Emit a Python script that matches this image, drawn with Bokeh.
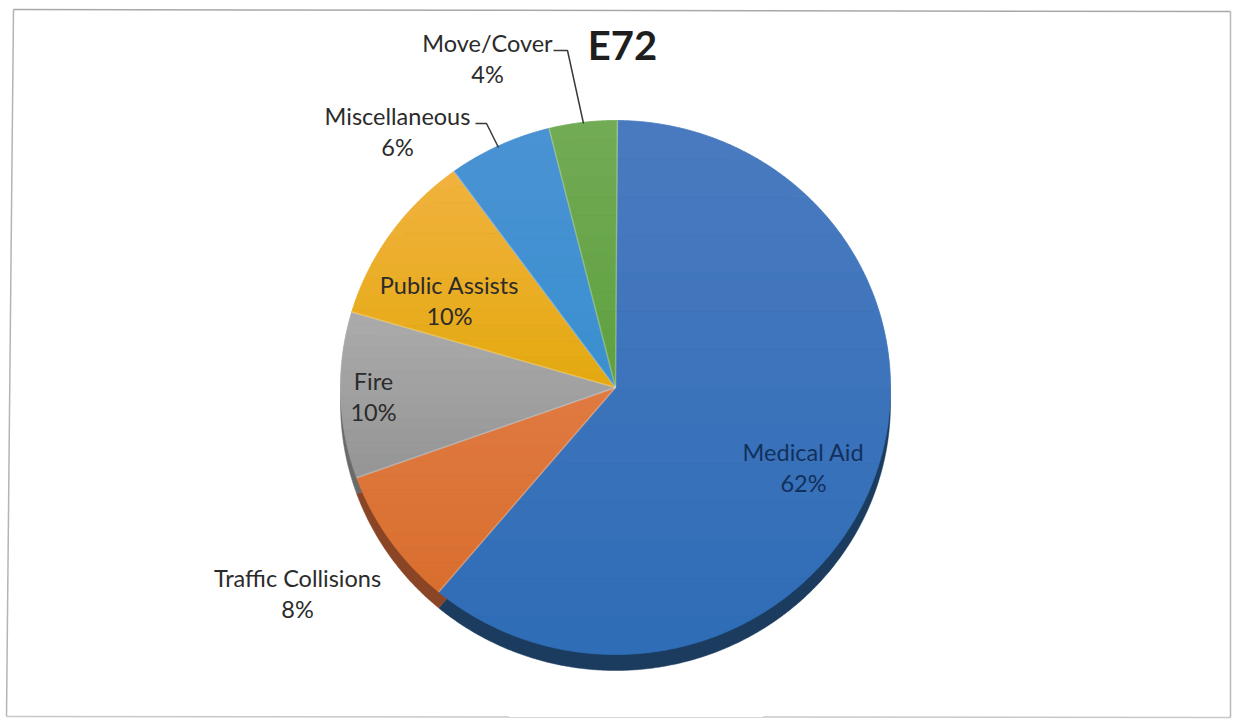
import numpy as np
from bokeh.plotting import figure
from bokeh.models import ColumnDataSource, Range1d
from bokeh.core.properties import value
from bokeh.embed import file_html
from bokeh.resources import INLINE

categories = ["Medical Aid", "Traffic Collisions", "Fire", "Public Assists", "Miscellaneous", "Move/Cover"]
slice_shares = [61.0, 8.4, 10.05, 10.45, 6.1, 4.0]
printed_pct = ["62%", "8%", "10%", "10%", "6%", "4%"]
face_top = ["#4A7BC0", "#E07A42", "#ABABAB", "#F1B23E", "#4A92D4", "#72AB55"]
face_bottom = ["#2E6CB6", "#D96F2E", "#959595", "#E3A90F", "#3A90CF", "#5FA040"]
side_colors = ["#1B3C5E", "#8A4526", "#6A6A6A", "#96701C", "#2A5A86", "#456A32"]
label_x = [803, 297, 373, 449, 397, 487]
label_y = [451, 577, 380, 284, 115, 42]
label_colors = ["#12305C", "#2B2B2B", "#2B2B2B", "#2B2B2B", "#2B2B2B", "#2B2B2B"]
title = "E72"

CX, CY, RX, RY, DEPTH, ROT = 615, 387, 275, 267, 16, np.radians(0.4)
BANDS = 14

p = figure(width=1233, height=719, output_backend="svg", toolbar_location=None,
           x_range=Range1d(0, 1233), y_range=Range1d(719, 0), min_border=0,
           margin=(0, 0, 0, 0))
p.axis.visible = False
p.grid.visible = False
p.outline_line_color = None
p.background_fill_color = "#FFFFFF"
p.border_fill_color = "#FFFFFF"

# scanned frame of the chart
p.line([13, 1230], [9, 11], line_color="#A8A8A8", line_width=1.5)
p.line([13, 6], [9, 716], line_color="#B4B4B4", line_width=1.5)
p.line([6, 1230], [716, 717], line_color="#C8C8C8", line_width=1.5)
p.line([1230, 1230], [11, 717], line_color="#B8B8B8", line_width=1.5)


def slice_outline(t0, t1, dy=0):
    t = np.linspace(t0, t1, max(3, int(abs(t1 - t0) * 120)))
    xs = np.r_[CX, CX + RX * np.sin(t)]
    ys = np.r_[CY + dy, CY + dy - RY * np.cos(t)]
    return xs, ys


def clip_halfplane(xs, ys, y0, keep_below):
    inside = (ys >= y0) if keep_below else (ys <= y0)
    out_x, out_y = [], []
    n = len(xs)
    for i in range(n):
        j = (i + 1) % n
        if inside[i]:
            out_x.append(xs[i]); out_y.append(ys[i])
        if inside[i] != inside[j]:
            f = (y0 - ys[i]) / (ys[j] - ys[i])
            out_x.append(xs[i] + f * (xs[j] - xs[i])); out_y.append(y0)
    return np.array(out_x), np.array(out_y)


def mix(c0, c1, f):
    a = [int(c0[i:i + 2], 16) for i in (1, 3, 5)]
    b = [int(c1[i:i + 2], 16) for i in (1, 3, 5)]
    return "#%02X%02X%02X" % tuple(round(u + (v - u) * f) for u, v in zip(a, b))


edges = np.r_[0, np.cumsum(slice_shares)] / np.sum(slice_shares) * 2 * np.pi + ROT
spans = list(zip(edges[:-1], edges[1:]))

side = [slice_outline(a, b, DEPTH) for a, b in spans]
p.patches([s[0].tolist() for s in side], [s[1].tolist() for s in side],
          fill_color=side_colors, line_color=side_colors, line_width=0.5)

# each face is split into horizontal bands for the soft vertical shading
band_x, band_y, band_c = [], [], []
for (a, b), c0, c1 in zip(spans, face_top, face_bottom):
    xs, ys = slice_outline(a, b)
    ytop, ybot = ys.min(), ys.max()
    limits = np.linspace(ytop, ybot, BANDS + 1)
    for k in range(BANDS):
        cx, cy = clip_halfplane(xs, ys, limits[k], True)
        if len(cx) < 3:
            continue
        cx, cy = clip_halfplane(cx, cy, limits[k + 1], False)
        if len(cx) < 3:
            continue
        band_x.append(cx.tolist()); band_y.append(cy.tolist())
        band_c.append(mix(c0, c1, (k + 0.5) / BANDS))
p.patches(band_x, band_y, fill_color=band_c, line_color=band_c, line_width=0.8)

# pale seams between the slices
p.multi_line([[CX, CX + RX * np.sin(a)] for a, _ in spans],
             [[CY, CY - RY * np.cos(a)] for a, _ in spans],
             line_color="#FFFFFF", line_alpha=0.28, line_width=1.5)

# leader lines
p.line([553, 567, 583], [50, 50, 123], line_color="#3A3A3A", line_width=1.5)
p.line([475, 486, 498], [123, 123, 147], line_color="#3A3A3A", line_width=1.5)

src = ColumnDataSource(dict(x=label_x, y=label_y, name=categories, pct=printed_pct,
                            y2=[v + 31 for v in label_y], c=label_colors))
font = value("Lato")
p.text("x", "y", text="name", source=src, text_font=font, text_font_size="23.5px",
       text_align="center", text_baseline="middle", text_color="c")
p.text("x", "y2", text="pct", source=src, text_font=font, text_font_size="23.5px",
       text_align="center", text_baseline="middle", text_color="c")
p.text([622], [44], text=[title], text_font=font, text_font_size="40px", text_font_style="bold",
       text_align="center", text_baseline="middle", text_color="#1E1E1E")

open("out.html", "w").write(file_html(p, INLINE))
